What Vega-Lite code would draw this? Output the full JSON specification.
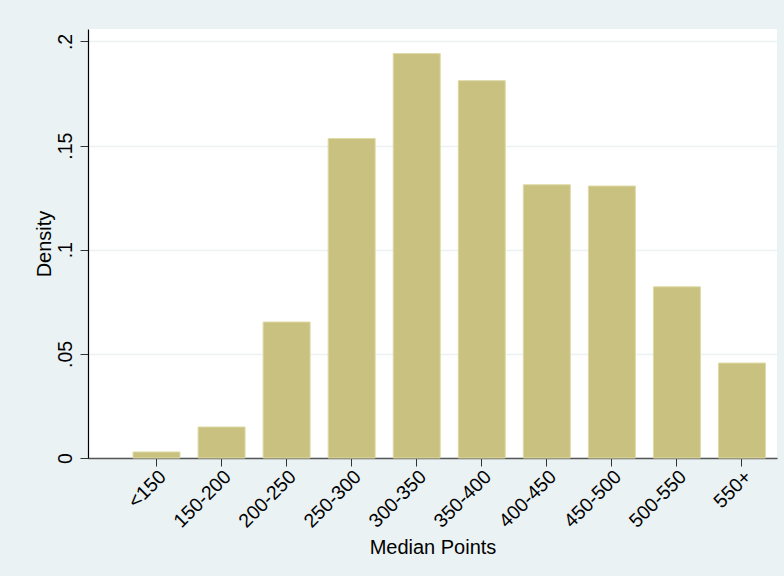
{
  "$schema": "https://vega.github.io/schema/vega-lite/v6.json",
  "width": 689,
  "height": 429,
  "autosize": {"type": "none"},
  "padding": {"left": 88, "top": 29, "right": 7, "bottom": 118},
  "background": "#EAF2F3",
  "data": {
    "values": [
      {"bin": "<150", "density": 0.0029},
      {"bin": "150-200", "density": 0.0149},
      {"bin": "200-250", "density": 0.0653},
      {"bin": "250-300", "density": 0.1534},
      {"bin": "300-350", "density": 0.1942},
      {"bin": "350-400", "density": 0.1812},
      {"bin": "400-450", "density": 0.1312},
      {"bin": "450-500", "density": 0.1306},
      {"bin": "500-550", "density": 0.0822},
      {"bin": "550+", "density": 0.0456}
    ]
  },
  "mark": {"type": "bar", "fill": "#C9C17F", "stroke": "#DEDAA6", "strokeWidth": 1},
  "encoding": {
    "x": {
      "field": "bin",
      "type": "nominal",
      "sort": null,
      "scale": {"paddingInner": 0.2775, "paddingOuter": 0.4347, "align": 0.796},
      "axis": {
        "title": "Median Points",
        "titleFont": "Liberation Sans",
        "titleFontSize": 20,
        "titleFontWeight": "normal",
        "titleColor": "#000000",
        "titleX": 344.5,
        "titleY": 89,
        "titleAlign": "center",
        "titleBaseline": "middle",
        "labelAngle": -45,
        "labelAlign": "right",
        "labelBaseline": "top",
        "labelPadding": 1,
        "labelFont": "Liberation Sans",
        "labelFontSize": 19.5,
        "labelColor": "#000000",
        "labelOverlap": false,
        "tickSize": 8,
        "tickColor": "#333333",
        "domainColor": "#555555",
        "domainWidth": 1.5,
        "grid": false
      }
    },
    "y": {
      "field": "density",
      "type": "quantitative",
      "scale": {"domain": [0, 0.206], "nice": false, "zero": true},
      "axis": {
        "title": "Density",
        "titleFont": "Liberation Sans",
        "titleFontSize": 20,
        "titleFontWeight": "normal",
        "titleColor": "#000000",
        "titleAngle": 270,
        "titleX": -44,
        "titleY": 214.5,
        "titleAlign": "center",
        "titleBaseline": "middle",
        "values": [0, 0.05, 0.1, 0.15, 0.2],
        "labelExpr": "datum.value == 0 ? '0' : slice(toString(datum.value), 1)",
        "labelAngle": 270,
        "labelAlign": "center",
        "labelBaseline": "bottom",
        "labelPadding": 5,
        "labelFont": "Liberation Sans",
        "labelFontSize": 19.5,
        "labelColor": "#000000",
        "tickSize": 8,
        "tickColor": "#333333",
        "domainColor": "#000000",
        "domainWidth": 1.2,
        "grid": true,
        "gridColor": "#EAF2F3",
        "gridWidth": 1.5
      }
    }
  },
  "config": {
    "view": {"fill": "#FFFFFF", "stroke": null}
  }
}
